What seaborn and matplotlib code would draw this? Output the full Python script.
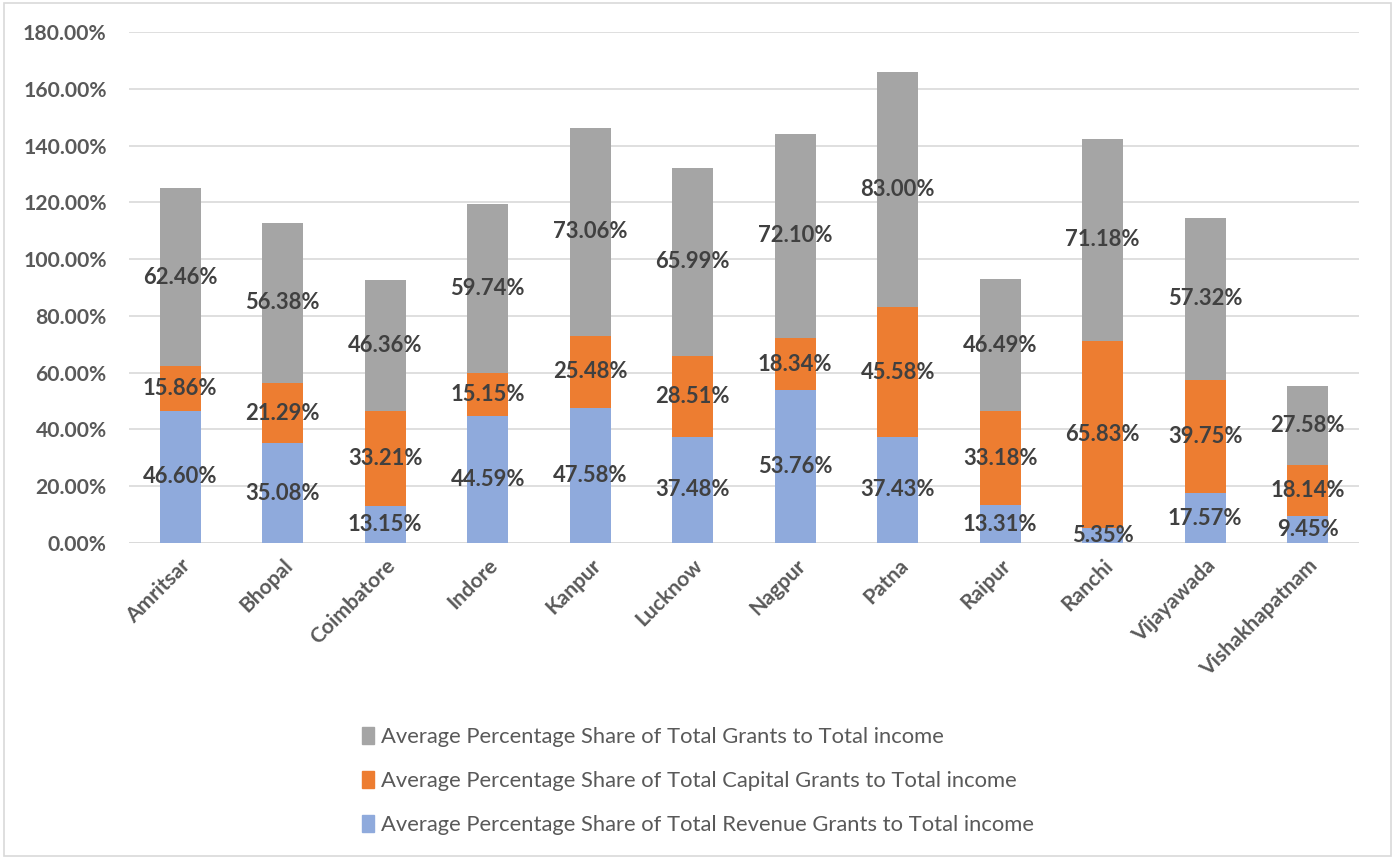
import numpy as np
import pandas as pd
import seaborn as sns
import matplotlib.pyplot as plt
from matplotlib.patches import Patch, Rectangle
from matplotlib.ticker import FuncFormatter

# --- DATA ---
cities = ["Amritsar", "Bhopal", "Coimbatore", "Indore", "Kanpur", "Lucknow",
          "Nagpur", "Patna", "Raipur", "Ranchi", "Vijayawada", "Vishakhapatnam"]
revenue = [46.60, 35.08, 13.15, 44.59, 47.58, 37.48, 53.76, 37.43, 13.31, 5.35, 17.57, 9.45]
capital = [15.86, 21.29, 33.21, 15.15, 25.48, 28.51, 18.34, 45.58, 33.18, 65.83, 39.75, 18.14]
total = [62.46, 56.38, 46.36, 59.74, 73.06, 65.99, 72.10, 83.00, 46.49, 71.18, 57.32, 27.58]

labels = ["Average Percentage Share of Total Grants to Total income",
          "Average Percentage Share of Total Capital Grants to Total income",
          "Average Percentage Share of Total Revenue Grants to Total income"]

# --- COLOURS ---
C_REV = "#8FAADC"
C_CAP = "#ED7D31"
C_TOT = "#A5A5A5"
TXT = "#595959"

sns.set_style("white")
plt.rcParams["font.family"] = ["Lato", "DejaVu Sans"]

df = pd.DataFrame({"city": cities, "revenue": revenue, "capital": capital, "total": total})
bottom_cap = np.array(revenue)
bottom_tot = bottom_cap + np.array(capital)

fig = plt.figure(figsize=(13.95, 8.59), dpi=100)
ax = fig.add_axes([129 / 1395, 1 - 543 / 859, (1359 - 129) / 1395, (543 - 32) / 859])

bar_kw = dict(width=0.4, ax=ax, saturation=1, linewidth=0, zorder=2)
sns.barplot(data=df, x="city", y="revenue", color=C_REV, **bar_kw)
sns.barplot(data=df, x="city", y="capital", color=C_CAP, bottom=bottom_cap, **bar_kw)
sns.barplot(data=df, x="city", y="total", color=C_TOT, bottom=bottom_tot, **bar_kw)

# --- DATA LABELS (centred in each segment) ---
for i in range(len(cities)):
    for val, base in [(revenue[i], 0), (capital[i], bottom_cap[i]), (total[i], bottom_tot[i])]:
        ax.text(i, base + val / 2, f"{val:.2f}%", ha="center", va="center",
                fontsize=15.8, fontweight="bold", color="#404040", zorder=3)

ax.set_ylim(0, 180)
ax.set_xlim(-0.5, len(cities) - 0.5)
ax.set_yticks(np.arange(0, 181, 20))
ax.yaxis.set_major_formatter(FuncFormatter(lambda v, p: f"{v:.2f}%"))
ax.grid(axis="y", color="#D9D9D9", linewidth=1.2, zorder=0)
ax.set_axisbelow(True)
for s in ax.spines.values():
    s.set_visible(False)
ax.axhline(0, color="#D9D9D9", linewidth=1.2, zorder=1)
ax.set_xlabel("")
ax.set_ylabel("")
ax.tick_params(axis="both", length=0, labelsize=15.2, labelcolor=TXT)
ax.tick_params(axis="y", pad=16)
ax.tick_params(axis="x", pad=9)
for t in ax.get_yticklabels():
    t.set_fontweight("bold")
plt.setp(ax.get_xticklabels(), rotation=45, ha="right", rotation_mode="anchor",
         fontweight="bold")

# --- LEGEND ---
handles = [Patch(color=C_TOT), Patch(color=C_CAP), Patch(color=C_REV)]
fig.legend(handles, labels, loc="center", bbox_to_anchor=(698 / 1395, 1 - 781 / 859),
           ncol=1, frameon=False, fontsize=15.8, labelcolor=TXT,
           handlelength=0.55, handleheight=0.8, handletextpad=0.3, labelspacing=1.1)

# --- BORDER ---
fig.patches.append(Rectangle((0.003, 0.003), 0.994, 0.994, transform=fig.transFigure,
                             fill=False, edgecolor="#D9D9D9", linewidth=1.2))

fig.savefig("out.png", dpi=100)
